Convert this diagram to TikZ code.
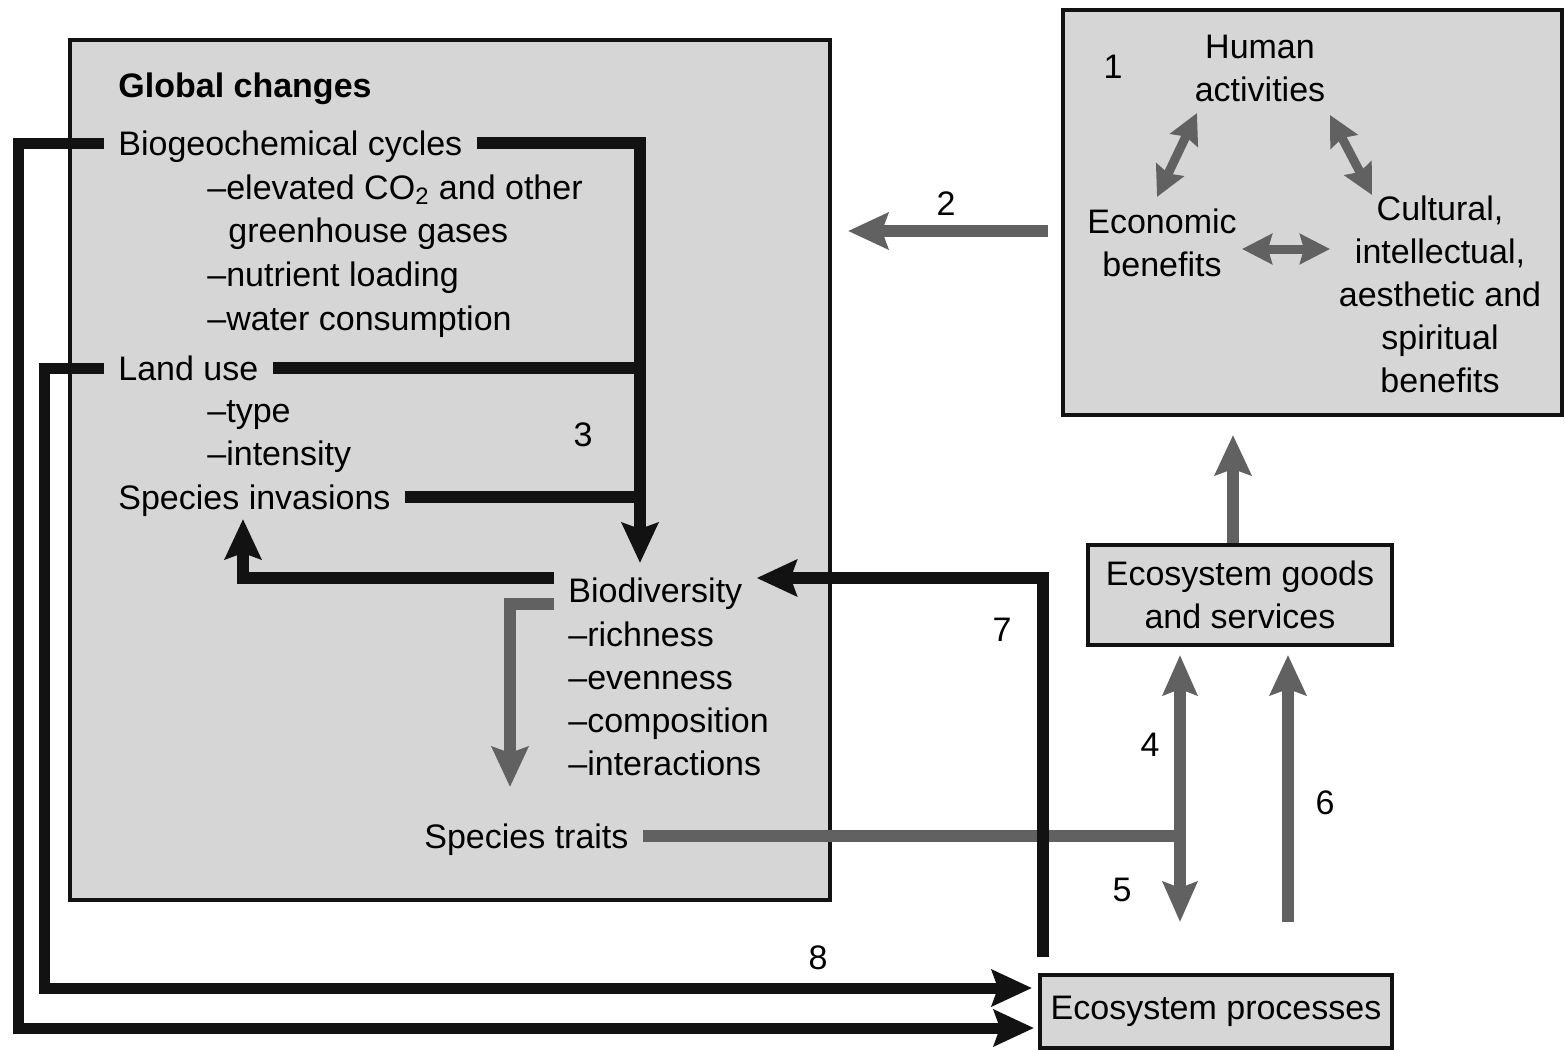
\documentclass[tikz,border=0pt]{standalone}
\usepackage{fontspec}
\setmainfont{Liberation Sans}
\usetikzlibrary{arrows.meta}
\definecolor{boxfill}{gray}{0.84}
\definecolor{arrgray}{gray}{0.38}
\definecolor{ink}{gray}{0.07}
\begin{document}
\begin{tikzpicture}[x=0.5pt,y=-0.5pt,
  txt/.style={anchor=west,inner xsep=7pt,inner ysep=1pt,text height=12pt,text depth=0pt,font=\fontsize{17}{21.5}\selectfont},
  ctxt/.style={align=center,inner sep=1pt,font=\fontsize{17}{21.5}\selectfont},
  num/.style={inner sep=0pt,font=\fontsize{17}{20}\selectfont},
  panel/.style={draw=ink,line width=1.6pt,fill=boxfill},
  blk/.style={draw=ink,line width=6pt},
  gry/.style={draw=arrgray,line width=6pt},
  tipb/.style={-{Stealth[length=20pt,width=18pt,inset=3pt]}},
  dbl/.style={{Stealth[length=20pt,width=17pt,inset=3pt]}-{Stealth[length=20pt,width=17pt,inset=3pt]}},
  smalldbl/.style={draw=arrgray,line width=4.5pt,{Stealth[length=15pt,width=15pt,inset=2pt]}-{Stealth[length=15pt,width=15pt,inset=2pt]}},
]
\useasboundingbox (0,0) rectangle (1565,1051);

% ---- panels ----
\node[panel,minimum width=380pt,minimum height=430pt,inner sep=0pt] (global) at (450,470) {};
\node[panel,line width=2pt,minimum width=249.5pt,minimum height=202.5pt,inner sep=0pt] (hbox) at (1312.5,212.5) {};
\node[panel,line width=2pt,minimum width=152pt,minimum height=50pt,inner sep=0pt,align=center,font=\fontsize{17}{21.5}\selectfont] (goods) at (1240,595) {Ecosystem goods\\and services};
\node[panel,line width=2pt,minimum width=176pt,minimum height=36.5pt,inner sep=0pt,font=\fontsize{17}{21.5}\selectfont] (proc) at (1216,1011) {Ecosystem processes};

% ---- global changes texts ----
\node[txt,font=\bfseries\fontsize{17}{21.5}\selectfont] (gc) at (104,85) {Global changes};
\node[txt] (bgc) at (104,143) {Biogeochemical cycles};
\node[txt] (co2) at (193,187) {–elevated CO\textsubscript{2} and other};
\node[txt] (ghg) at (214,230) {greenhouse gases};
\node[txt] (nut) at (193,274) {–nutrient loading};
\node[txt] (wat) at (193,318) {–water consumption};
\node[txt] (lu) at (104,368) {Land use};
\node[txt] (typ) at (193,410) {–type};
\node[txt] (int) at (193,453) {–intensity};
\node[txt] (inv) at (104,497) {Species invasions};
\node[txt] (bio) at (554,590) {Biodiversity};
\node[txt] (ric) at (554,634) {–richness};
\node[txt] (eve) at (554,677) {–evenness};
\node[txt] (com) at (554,720) {–composition};
\node[txt] (ita) at (554,763) {–interactions};
\node[txt] (tra) at (410,836) {Species traits};

% ---- right panel texts ----
\node[ctxt] (hum) at (1260,68.5) {Human\\activities};
\node[ctxt] (eco) at (1162,242.5) {Economic\\benefits};
\node[ctxt] (cul) at (1440,294) {Cultural,\\intellectual,\\aesthetic and\\spiritual\\benefits};

% ---- numbers ----
\node[num] (n1) at (1113,67) {1};
\node[num] (n2) at (946,204) {2};
\node[num] (n3) at (583,435) {3};
\node[num] (n4) at (1150,745) {4};
\node[num] (n5) at (1122,890) {5};
\node[num] (n6) at (1325,803) {6};
\node[num] (n7) at (1002,630) {7};
\node[num] (n8) at (818,958) {8};

% ---- coordinates ----
\coordinate (bioTip) at (640,563);
\coordinate (invTip) at (243,519);
\coordinate (traTip) at (510,787);
\coordinate (c4) at (1180,655);
\coordinate (c5) at (1180,922);
\coordinate (c6s) at (1288,922);
\coordinate (c6e) at (1288,655);
\coordinate (hbTip) at (1233,435);
\coordinate (a2s) at (1048,231);
\coordinate (a2e) at (848,231);
\coordinate (a7s) at (1043,957);
\coordinate (o1) at (18,143);
\coordinate (o2) at (18,1028);
\coordinate (o3) at (1034,1028);
\coordinate (i1) at (44,368);
\coordinate (i2) at (44,988);
\coordinate (i3) at (1032,988);

% ---- black connectors (3) ----
\draw[blk,tipb] (bgc.east) -| (bioTip);
\draw[blk] (lu.east) -- (lu.east -| bioTip);
\draw[blk] (inv.east) -- (inv.east -| bioTip);
\draw[blk,tipb] ([yshift=6pt]bio.west) -| (invTip);
\draw[gry,tipb] ([yshift=-7pt]bio.west) -| (traTip);

% ---- species traits to 4/5 ----
\draw[gry] (tra.east) -- (tra.east -| c4);
\draw[gry,dbl] (c5) -- (c4);
\draw[gry,tipb] (c6s) -- (c6e);
\draw[gry,tipb] ([xshift=-3.5pt]goods.north) -- (hbTip);
\draw[gry,tipb] (a2s) -- (a2e);

% ---- 7 ----
\draw[blk,tipb] (a7s) |- ([yshift=6pt]bio.east);

% ---- 8 ----
\draw[blk,line width=5.5pt,tipb] (bgc.west) -- (o1) -- (o2) -- (o3);
\draw[blk,line width=5.5pt,tipb] (lu.west) -- (i1) -- (i2) -- (i3);

% ---- right panel arrows ----
\draw[smalldbl] (1197,113) -- (1157,197);
\draw[smalldbl] (1330,115) -- (1372,195);
\draw[smalldbl] (1242,249) -- (1330,249);
\end{tikzpicture}
\end{document}
